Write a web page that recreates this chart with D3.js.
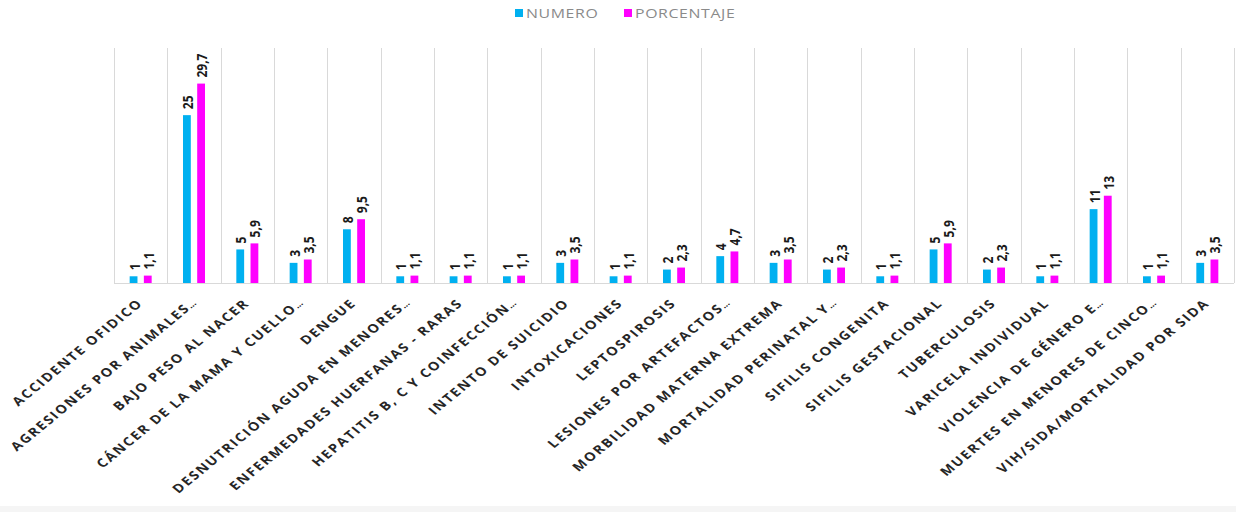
<!DOCTYPE html>
<html><head><meta charset="utf-8">
<script src="https://cdn.jsdelivr.net/npm/d3@7"></script>
<style>body{margin:0;background:#fff}svg{display:block}</style>
</head><body>
<svg id="chart" width="1236" height="512"></svg>
<script>
const categories = ["ACCIDENTE OFIDICO","AGRESIONES POR ANIMALES…","BAJO PESO AL NACER","CÁNCER DE LA MAMA Y CUELLO…","DENGUE","DESNUTRICIÓN AGUDA EN MENORES…","ENFERMEDADES HUERFANAS - RARAS","HEPATITIS B, C Y COINFECCIÓN…","INTENTO DE SUICIDIO","INTOXICACIONES","LEPTOSPIROSIS","LESIONES POR ARTEFACTOS…","MORBILIDAD MATERNA EXTREMA","MORTALIDAD PERINATAL Y…","SIFILIS CONGENITA","SIFILIS GESTACIONAL","TUBERCULOSIS","VARICELA INDIVIDUAL","VIOLENCIA DE GÉNERO E…","MUERTES EN MENORES DE CINCO…","VIH/SIDA/MORTALIDAD POR SIDA"];
const numero = [1,25,5,3,8,1,1,1,3,1,2,4,3,2,1,5,2,1,11,1,3];
const porcentaje = [1.1,29.7,5.9,3.5,9.5,1.1,1.1,1.1,3.5,1.1,2.3,4.7,3.5,2.3,1.1,5.9,2.3,1.1,13,1.1,3.5];
const seriesNames = ["NUMERO","PORCENTAJE"];
const colors = ["#00b0f0","#ff00ff"];

(function(){
const svg = d3.select("#chart");
const SX = 1.22; // horizontal stretch of the original rendering
const pLeft = 114, pRight = 1234, pTop = 48, pBottom = 283;
const x = d3.scaleBand().domain(categories).range([pLeft, pRight]);
const y = d3.scaleLinear().domain([0, 35]).range([pBottom, pTop]);
const xs = d3.scaleBand().domain(seriesNames).range([-11, 11]).paddingInner(0.45);

svg.append("rect").attr("x",0).attr("y",506).attr("width",1236).attr("height",6).attr("fill","#f5f5f5");

const bounds = categories.map(c => x(c)).concat([pRight]);
svg.append("g").selectAll("line").data(bounds).join("line")
  .attr("x1", d => Math.round(d) + 0.5).attr("x2", d => Math.round(d) + 0.5)
  .attr("y1", pTop).attr("y2", pBottom)
  .attr("stroke", "#d9d9d9").attr("stroke-width", 1);
svg.append("line").attr("x1", pLeft).attr("x2", pRight).attr("y1", pBottom + 0.5).attr("y2", pBottom + 0.5)
  .attr("stroke", "#d9d9d9");

const data = categories.map((c, i) => ({c, vals: [numero[i], porcentaje[i]]}));
const g = svg.append("g");
data.forEach(d => {
  const center = x(d.c) + x.bandwidth() / 2;
  d.vals.forEach((v, si) => {
    const bx = center + xs(seriesNames[si]);
    g.append("rect").attr("x", bx).attr("y", y(v)).attr("width", xs.bandwidth())
      .attr("height", pBottom - y(v)).attr("fill", colors[si]);
    const cx = bx + xs.bandwidth() / 2;
    const ty = y(v) - 6;
    g.append("text").attr("transform", `translate(${cx + 6},${ty}) scale(${SX},1) rotate(-90)`)
      .attr("text-anchor", "start")
      .attr("font-family", "'Open Sans', sans-serif").attr("font-weight", "bold")
      .attr("font-size", 12).attr("fill", "#1a1a1a")
      .text(String(v).replace(".", ","));
  });
});

const labels = svg.append("g").selectAll("text").data(categories).join("text")
  .attr("transform", d => `translate(${x(d) + x.bandwidth()/2 + 3},${304}) scale(${SX},1) rotate(-45)`)
  .attr("text-anchor", "end")
  .attr("font-family", "'Open Sans', sans-serif").attr("font-weight", "bold")
  .attr("font-size", 12).attr("letter-spacing", "1.5px").attr("fill", "#262626");
labels.each(function(d){
  const t = d3.select(this);
  if (d.endsWith("…")) {
    t.append("tspan").text(d.slice(0, -1));
    t.append("tspan").attr("font-size", 8).attr("letter-spacing", "0px").text("…");
  } else {
    t.text(d);
  }
});

const legend = svg.append("g");
const lx = [515, 624];
seriesNames.forEach((s, i) => {
  legend.append("rect").attr("x", lx[i]).attr("y", 9).attr("width", 8).attr("height", 8).attr("fill", colors[i]);
  legend.append("text").attr("transform", `translate(${lx[i] + 11},18) scale(${SX},1)`)
    .attr("font-family", "'Open Sans', sans-serif").attr("font-size", 13)
    .attr("letter-spacing", "0.5px").attr("fill", "#8a8a8a").text(s);
});
})();
</script>
</body></html>
